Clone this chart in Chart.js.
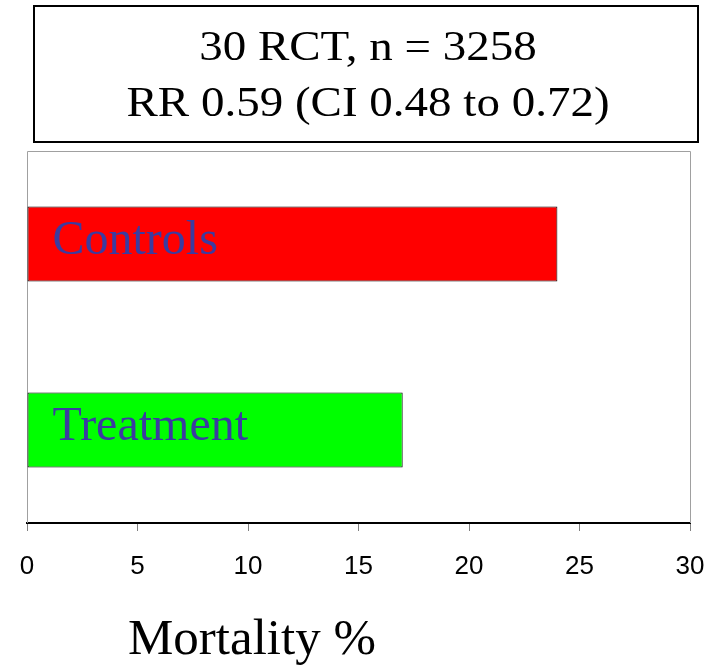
<!DOCTYPE html>
<html>
<head>
<meta charset="utf-8">
<script src="https://cdn.jsdelivr.net/npm/chart.js@4"></script>
<style>
  html, body { margin: 0; padding: 0; background: #fff; }
  #wrap { position: relative; width: 716px; height: 667px; overflow: hidden; }
  #chart { position: absolute; left: 0; top: 0; }
  #box {
    position: absolute; left: 33px; top: 5px; width: 662px; height: 134px;
    border: 2px solid #000; box-sizing: content-box;
    font-family: 'Liberation Serif', 'Times New Roman', serif; font-size: 47px; color: #000;
  }
  .line {
    position: absolute; left: 0; right: 0; text-align: center; white-space: nowrap;
    line-height: 1; transform: scaleY(0.88); transform-origin: 50% 0;
  }
  #xtitle {
    position: absolute; left: 128px; top: 612px;
    font-family: 'Liberation Serif', 'Times New Roman', serif; font-size: 51px; color: #000;
    line-height: 1; white-space: nowrap;
  }
</style>
</head>
<body>
<div id="wrap">
  <canvas id="chart" width="716" height="667"></canvas>
  <div id="box">
    <div class="line" style="top:19px; padding-left:4px">30 RCT, n = 3258</div>
    <div class="line" style="top:75px; padding-left:4px">RR 0.59 (CI 0.48 to 0.72)</div>
  </div>
  <div id="xtitle">Mortality %</div>
</div>
<script>
const categories = ["Controls", "Treatment"];
const mortality = [24, 17];
const barColors = ["#FF0000", "#00FF00"];
const xTicks = [0, 5, 10, 15, 20, 25, 30];

const frame = {
  id: 'frame',
  beforeDatasetsDraw(chart) {
    const a = chart.chartArea, c = chart.ctx;
    c.save();
    c.strokeStyle = '#a0a0a0';
    c.lineWidth = 1;
    c.beginPath();
    c.moveTo(a.left + 0.5, a.bottom);
    c.lineTo(a.left + 0.5, a.top + 0.5);
    c.lineTo(a.right + 0.5, a.top + 0.5);
    c.lineTo(a.right + 0.5, a.bottom);
    c.stroke();
    c.restore();
  }
};

const inBarLabels = {
  id: 'inBarLabels',
  afterDatasetsDraw(chart) {
    const meta = chart.getDatasetMeta(0);
    const c = chart.ctx;
    c.save();
    c.font = "48px 'Liberation Serif', 'Times New Roman', serif";
    c.fillStyle = '#3B3CA0';
    c.textAlign = 'left';
    c.textBaseline = 'alphabetic';
    meta.data.forEach((bar, i) => {
      c.fillText(categories[i], bar.base + 25, bar.y + 9.5);
    });
    c.restore();
  }
};

new Chart(document.getElementById('chart'), {
  type: 'bar',
  data: {
    labels: categories,
    datasets: [{
      data: mortality,
      backgroundColor: barColors,
      borderColor: '#000',
      borderWidth: 1,
      borderSkipped: false,
      categoryPercentage: 1,
      barPercentage: 0.403
    }]
  },
  options: {
    indexAxis: 'y',
    responsive: false,
    animation: false,
    events: [],
    layout: { padding: { left: 27, right: 26, top: 151, bottom: 84 } },
    plugins: { legend: { display: false }, tooltip: { enabled: false }, title: { display: false } },
    scales: {
      x: {
        type: 'linear',
        min: 0, max: 30,
        afterBuildTicks(scale) { scale.ticks = xTicks.map(v => ({ value: v })); },
        afterFit(scale) { scale.height = 60; scale.paddingLeft = 0; scale.paddingRight = 0; },
        grid: { display: true, drawOnChartArea: false, drawTicks: true, tickLength: 8, color: '#808080', lineWidth: 1 },
        border: { display: true, color: '#000', width: 2 },
        ticks: {
          color: '#000',
          padding: 20,
          font: { family: "'Liberation Sans', Arial, sans-serif", size: 26 }
        }
      },
      y: { display: false }
    }
  },
  plugins: [frame, inBarLabels]
});
</script>
</body>
</html>
